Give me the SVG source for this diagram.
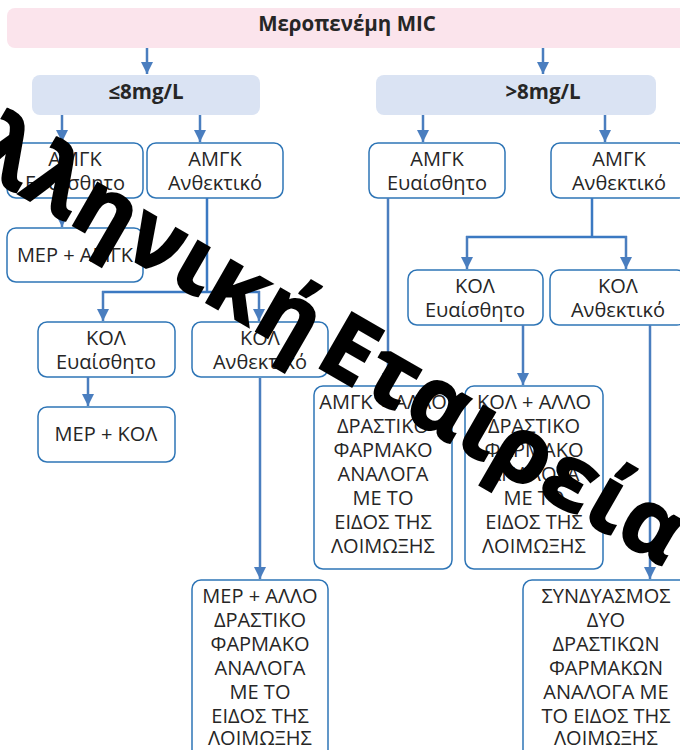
<svg xmlns="http://www.w3.org/2000/svg" width="680" height="750" viewBox="0 0 680 750">
<defs>
<marker id="ah" markerUnits="userSpaceOnUse" markerWidth="12" markerHeight="12" refX="12" refY="6" orient="auto">
<path d="M0,0 L12,6 L0,12 z" fill="#4a7ebf"/>
</marker>
<style>
.hdr{font-family:"Open Sans","Noto Sans",sans-serif;font-weight:bold;font-size:20.5px;fill:#262626;text-anchor:middle}
.t{font-family:"Open Sans","Noto Sans",sans-serif;font-size:20px;fill:#262626;text-anchor:middle}
.box{fill:#ffffff;stroke:#2e75b6;stroke-width:1.5}
.bl{fill:#dae3f3;stroke:none}
.ln{fill:none;stroke:#3b79c2;stroke-width:2.5}
.ar{fill:none;stroke:#4a7ebf;stroke-width:2.5;marker-end:url(#ah)}
.wm{font-family:"Open Sans","Noto Sans",sans-serif;font-weight:bold;font-size:90px;letter-spacing:1.5px;fill:#000000;stroke:#000000;stroke-width:2}
</style>
</defs>
<g id="mic"><rect x="7" y="8" width="690" height="40" rx="8" fill="#fbe4ec"/><text class="hdr" x="347" y="31">Μεροπενέμη MIC</text></g>
<g id="le8"><rect class="bl" x="32" y="75" width="228" height="40" rx="8"/><text class="hdr" x="146" y="99">≤8mg/L</text></g>
<g id="gt8"><rect class="bl" x="376" y="75" width="280" height="40" rx="8"/><text class="hdr" x="543" y="99">&gt;8mg/L</text></g>

<g id="amgk_s_l"><rect class="box" x="7" y="143" width="136" height="55" rx="9"/><text class="t" x="75" y="166">ΑΜΓΚ</text><text class="t" x="75" y="190">Ευαίσθητο</text></g>
<g id="amgk_r_l"><rect class="box" x="147" y="143" width="136" height="55" rx="9"/><text class="t" x="215" y="166">ΑΜΓΚ</text><text class="t" x="215" y="190">Ανθεκτικό</text></g>
<g id="amgk_s_r"><rect class="box" x="369" y="143" width="136" height="55" rx="9"/><text class="t" x="437" y="166">ΑΜΓΚ</text><text class="t" x="437" y="190">Ευαίσθητο</text></g>
<g id="amgk_r_r"><rect class="box" x="551" y="143" width="136" height="55" rx="9"/><text class="t" x="619" y="166">ΑΜΓΚ</text><text class="t" x="619" y="190">Ανθεκτικό</text></g>

<g id="mer_amgk"><rect class="box" x="7" y="228" width="136" height="54" rx="9"/><text class="t" x="75" y="262">ΜΕΡ + ΑΜΓΚ</text></g>

<g id="kol_s_l"><rect class="box" x="38" y="322" width="137" height="55" rx="9"/><text class="t" x="106" y="345">ΚΟΛ</text><text class="t" x="106" y="369">Ευαίσθητο</text></g>
<g id="kol_r_l"><rect class="box" x="192" y="322" width="136" height="55" rx="9"/><text class="t" x="260" y="345">ΚΟΛ</text><text class="t" x="260" y="369">Ανθεκτικό</text></g>
<g id="mer_kol"><rect class="box" x="38" y="407" width="137" height="55" rx="9"/><text class="t" x="106" y="441">ΜΕΡ + ΚΟΛ</text></g>

<g id="kol_s_r"><rect class="box" x="408" y="270" width="135" height="55" rx="9"/><text class="t" x="475" y="293">ΚΟΛ</text><text class="t" x="475" y="317">Ευαίσθητο</text></g>
<g id="kol_r_r"><rect class="box" x="550" y="270" width="136" height="55" rx="9"/><text class="t" x="618" y="293">ΚΟΛ</text><text class="t" x="618" y="317">Ανθεκτικό</text></g>

<g id="amgk_allo"><rect class="box" x="314" y="386" width="138" height="183" rx="9"/>
<text class="t" x="383" y="409">ΑΜΓΚ + ΑΛΛΟ</text><text class="t" x="383" y="433">ΔΡΑΣΤΙΚΟ</text><text class="t" x="383" y="457">ΦΑΡΜΑΚΟ</text><text class="t" x="383" y="481">ΑΝΑΛΟΓΑ</text><text class="t" x="383" y="505">ΜΕ ΤΟ</text><text class="t" x="383" y="529">ΕΙΔΟΣ ΤΗΣ</text><text class="t" x="383" y="553">ΛΟΙΜΩΞΗΣ</text></g>
<g id="kol_allo"><rect class="box" x="465" y="386" width="138" height="183" rx="9"/>
<text class="t" x="534" y="409">ΚΟΛ + ΑΛΛΟ</text><text class="t" x="534" y="433">ΔΡΑΣΤΙΚΟ</text><text class="t" x="534" y="457">ΦΑΡΜΑΚΟ</text><text class="t" x="534" y="481">ΑΝΑΛΟΓΑ</text><text class="t" x="534" y="505">ΜΕ ΤΟ</text><text class="t" x="534" y="529">ΕΙΔΟΣ ΤΗΣ</text><text class="t" x="534" y="553">ΛΟΙΜΩΞΗΣ</text></g>
<g id="mer_allo"><rect class="box" x="192" y="580" width="136" height="185" rx="9"/>
<text class="t" x="260" y="603">ΜΕΡ + ΑΛΛΟ</text><text class="t" x="260" y="627">ΔΡΑΣΤΙΚΟ</text><text class="t" x="260" y="651">ΦΑΡΜΑΚΟ</text><text class="t" x="260" y="675">ΑΝΑΛΟΓΑ</text><text class="t" x="260" y="699">ΜΕ ΤΟ</text><text class="t" x="260" y="723">ΕΙΔΟΣ ΤΗΣ</text><text class="t" x="260" y="745">ΛΟΙΜΩΞΗΣ</text></g>
<g id="syndyasmos"><rect class="box" x="523" y="580" width="168" height="185" rx="9"/>
<text class="t" x="606" y="603">ΣΥΝΔΥΑΣΜΟΣ</text><text class="t" x="606" y="627">ΔΥΟ</text><text class="t" x="606" y="651">ΔΡΑΣΤΙΚΩΝ</text><text class="t" x="606" y="675">ΦΑΡΜΑΚΩΝ</text><text class="t" x="606" y="699">ΑΝΑΛΟΓΑ ΜΕ</text><text class="t" x="606" y="723">ΤΟ ΕΙΔΟΣ ΤΗΣ</text><text class="t" x="606" y="745">ΛΟΙΜΩΞΗΣ</text></g>

<g id="connectors">
<line class="ar" x1="147" y1="48" x2="147" y2="74"/>
<line class="ar" x1="543" y1="48" x2="543" y2="74"/>
<line class="ar" x1="62" y1="115" x2="62" y2="142"/>
<line class="ar" x1="200" y1="115" x2="200" y2="142"/>
<line class="ar" x1="423" y1="115" x2="423" y2="142"/>
<line class="ar" x1="605" y1="115" x2="605" y2="142"/>
<line class="ar" x1="62" y1="198" x2="62" y2="227"/>
<path class="ln" d="M207,198 V292 M102,292 H260"/>
<line class="ar" x1="103" y1="291" x2="103" y2="321"/>
<line class="ar" x1="259" y1="291" x2="259" y2="321"/>
<line class="ar" x1="88" y1="377" x2="88" y2="406"/>
<line class="ar" x1="260" y1="378" x2="260" y2="579"/>
<line class="ar" x1="388" y1="198" x2="388" y2="385"/>
<path class="ln" d="M592,198 V237 M466,237 H627"/>
<line class="ar" x1="467" y1="236" x2="467" y2="269"/>
<line class="ar" x1="626" y1="236" x2="626" y2="269"/>
<line class="ar" x1="523" y1="325" x2="523" y2="385"/>
<line class="ar" x1="650" y1="325" x2="650" y2="579"/>
</g>

<g id="watermark" transform="translate(318,367) rotate(30)">
<text class="wm" x="-18" y="0" text-anchor="end">Ελληνική</text>
<text class="wm" x="-6" y="0">Εταιρεία Λοιμώξεων</text>
</g>
</svg>
